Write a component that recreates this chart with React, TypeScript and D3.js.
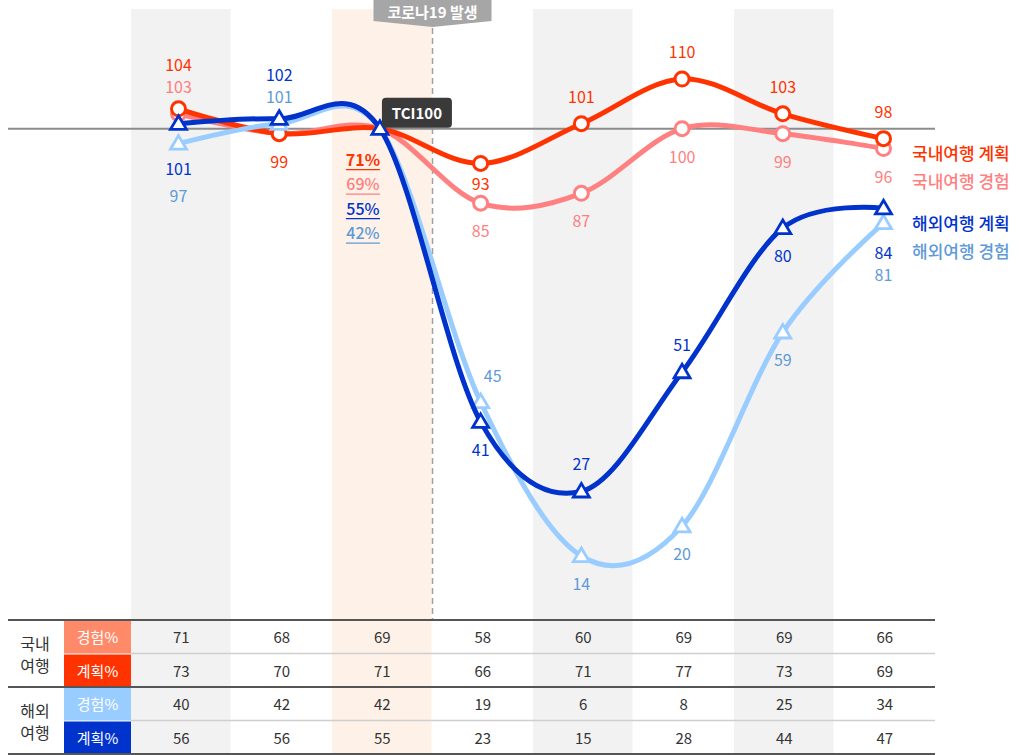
import * as d3 from 'd3';
import React from 'react';

const width = 1019;
const height = 755;
const font = "'Noto Sans CJK KR', 'Noto Sans', sans-serif";

// 8 survey periods, index 2 is the TCI=100 base, covid starts right after it
const periods = [0, 1, 2, 3, 4, 5, 6, 7];
const baseIndex = 2;

// TCI index values
const domesticPlan = [104, 99, 100, 93, 101, 110, 103, 98];
const domesticExp = [103, 99, 100, 85, 87, 100, 99, 96];
const overseasPlan = [101, 102, 100, 41, 27, 51, 80, 84];
const overseasExp = [97, 101, 100, 45, 14, 20, 59, 81];

// where each value label sits: a above, aa above 2nd row, b below, bs below close,
// bb/bbb below 2nd row, ar above-right, - none
const domesticPlanLabels = ['aa', 'b', '-', 'bs', 'a', 'a', 'a', 'a'];
const domesticExpLabels = ['a', '-', '-', 'b', 'b', 'b', 'b', 'b'];
const overseasPlanLabels = ['bb', 'aa', '-', 'b', 'a', 'a', 'b', 'bb'];
const overseasExpLabels = ['bbb', 'a', '-', 'ar', 'b', 'b', 'b', 'bbb'];

// table percentages
const domesticExpPct = [71, 68, 69, 58, 60, 69, 69, 66];
const domesticPlanPct = [73, 70, 71, 66, 71, 77, 73, 69];
const overseasExpPct = [40, 42, 42, 19, 6, 8, 25, 34];
const overseasPlanPct = [56, 56, 55, 23, 15, 28, 44, 47];

const red = '#ff3300';
const pink = '#ff8080';
const navy = '#0033cc';
const sky = '#99ccff';

const series = [
  { name: '국내여행 경험', values: domesticExp, labels: domesticExpLabels, color: pink, text: '#ff7f7f', shape: 'circle' },
  { name: '국내여행 계획', values: domesticPlan, labels: domesticPlanLabels, color: red, text: red, shape: 'circle' },
  { name: '해외여행 경험', values: overseasExp, labels: overseasExpLabels, color: sky, text: '#5e9ad8', shape: 'triangle' },
  { name: '해외여행 계획', values: overseasPlan, labels: overseasPlanLabels, color: navy, text: navy, shape: 'triangle' }
];

const legend = [
  { name: '국내여행 계획', color: red },
  { name: '국내여행 경험', color: '#ff7f7f' },
  { name: '해외여행 계획', color: navy },
  { name: '해외여행 경험', color: '#5e9ad8' }
];

const tableRows = [
  { label: '경험%', values: domesticExpPct, fill: '#ff8a6a' },
  { label: '계획%', values: domesticPlanPct, fill: red },
  { label: '경험%', values: overseasExpPct, fill: sky },
  { label: '계획%', values: overseasPlanPct, fill: navy }
];
const groups = [['국내', '여행'], ['해외', '여행']];

const labelOffset: Record<string, [number, number]> = {
  a: [0, -28],
  aa: [0, -45],
  b: [0, 27],
  bs: [0, 20],
  bb: [0, 44],
  bbb: [0, 51],
  ar: [12, -27]
};

const bandX = d3.scaleBand<number>().domain(periods).range([131, 935]);
const x = d3.scalePoint<number>().domain(periods).range([178.5, 883.5]);
const y = d3.scaleLinear().domain([110, 14]).range([79, 556]);

const line = d3
  .line<number>()
  .x((d, i) => x(i)!)
  .y(d => y(d))
  .curve(d3.curveCardinal.tension(0));

const tableTop = 620;
const rowH = 33.5;

function Marker({ shape, cx, cy, color }) {
  if (shape === 'circle') {
    return <circle cx={cx} cy={cy} r={7} fill="#fff" stroke={color} strokeWidth={3} />;
  }
  const s = 8;
  const pts = [
    [cx, cy - s],
    [cx + s, cy + s * 0.7],
    [cx - s, cy + s * 0.7]
  ];
  return <polygon points={pts.map(p => p.join(',')).join(' ')} fill="#fff" stroke={color} strokeWidth={2.8} strokeLinejoin="miter" />;
}

export default function App() {
  const bx = x(baseIndex)!;
  const covidX = bandX(baseIndex)! + bandX.bandwidth();

  return (
    <svg width={width} height={height} style={{ position: 'absolute', left: 0, top: 0, fontFamily: font }}>
      {/* column shading */}
      {periods.map(i =>
        i % 2 === 0 ? (
          <rect
            key={i}
            x={bandX(i)}
            y={9}
            width={bandX.bandwidth() - 1}
            height={height - 9}
            fill={i === baseIndex ? '#fdf1e8' : '#f2f2f2'}
          />
        ) : null
      )}

      {/* covid marker */}
      <line x1={covidX} x2={covidX} y1={28} y2={tableTop} stroke="#a0a0a0" strokeWidth={1.5} strokeDasharray="6,4" />
      <polygon
        points={`${covidX - 59},0 ${covidX + 59},0 ${covidX + 59},21 ${covidX},27 ${covidX - 59},21`}
        fill="#a6a6a6"
      />
      <text x={covidX} y={11} fill="#fff" fontSize={15} fontWeight={700} textAnchor="middle" dominantBaseline="central">
        코로나19 발생
      </text>

      {/* TCI 100 reference */}
      <line x1={8} x2={935} y1={y(100)} y2={y(100)} stroke="#8c8c8c" strokeWidth={2} />

      {series.map(s => (
        <g key={s.name}>
          <path d={line(s.values)!} fill="none" stroke={s.color} strokeWidth={5} strokeLinecap="round" />
          {s.values.map((v, i) =>
            i === baseIndex && s.color !== navy ? null : (
              <Marker key={i} shape={s.shape} cx={x(i)} cy={y(v)} color={s.color} />
            )
          )}
        </g>
      ))}

      {/* value labels */}
      {series.map(s =>
        s.values.map((v, i) => {
          const code = s.labels[i];
          if (code === '-') return null;
          const [dx, dy] = labelOffset[code];
          return (
            <text
              key={s.name + i}
              x={x(i)! + dx}
              y={y(v) + dy}
              fill={s.text}
              fontSize={16}
              textAnchor="middle"
              dominantBaseline="central"
            >
              {v}
            </text>
          );
        })
      )}

      {/* TCI100 badge */}
      <rect x={bx + 2} y={y(100) - 31} width={70} height={30} rx={4} fill="#3a3a3a" />
      <text x={bx + 37} y={y(100) - 16} fill="#fff" fontSize={15} fontWeight={700} textAnchor="middle" dominantBaseline="central">
        TCI100
      </text>

      {/* base period percentages */}
      {[
        { v: domesticPlanPct[baseIndex], c: red },
        { v: domesticExpPct[baseIndex], c: '#ff7f7f' },
        { v: overseasPlanPct[baseIndex], c: navy },
        { v: overseasExpPct[baseIndex], c: '#5e9ad8' }
      ].map((d, k) => (
        <g key={k}>
          <text
            x={bx - 17}
            y={y(100) + 30 + k * 24.5}
            fill={d.c}
            fontSize={16}
            fontWeight={k === 0 ? 700 : 500}
            textAnchor="middle"
            dominantBaseline="central"
          >
            {d.v}%
          </text>
          <line x1={bx - 34} x2={bx} y1={y(100) + 41 + k * 24.5} y2={y(100) + 41 + k * 24.5} stroke={d.c} strokeWidth={1.2} />
        </g>
      ))}

      {/* legend */}
      {legend.map((l, k) => (
        <text
          key={l.name}
          x={912}
          y={152 + k * 28 + (k > 1 ? 14 : 0)}
          fill={l.color}
          fontSize={17}
          fontWeight={500}
          dominantBaseline="central"
        >
          {l.name}
        </text>
      ))}

      {/* table */}
      {tableRows.map((r, k) => {
        const top = tableTop + k * rowH;
        return (
          <g key={k}>
            <rect x={64} y={top + 1} width={67} height={rowH - 1} fill={r.fill} />
            <text x={97.5} y={top + rowH / 2} fill="#fff" fontSize={15} textAnchor="middle" dominantBaseline="central">
              {r.label}
            </text>
            {r.values.map((v, i) => (
              <text
                key={i}
                x={bandX(i)! + bandX.bandwidth() / 2}
                y={top + rowH / 2}
                fill="#333"
                fontSize={15}
                textAnchor="middle"
                dominantBaseline="central"
              >
                {v}
              </text>
            ))}
            {k % 2 === 0 ? (
              <line x1={131} x2={935} y1={top + rowH} y2={top + rowH} stroke="#cfcfcf" strokeWidth={1.5} />
            ) : null}
          </g>
        );
      })}
      {[0, 2, 4].map(k => (
        <line key={k} x1={8} x2={935} y1={tableTop + k * rowH} y2={tableTop + k * rowH} stroke="#555" strokeWidth={2} />
      ))}
      {groups.map((g, k) => (
        <g key={k}>
          {g.map((t, j) => (
            <text
              key={j}
              x={35}
              y={tableTop + k * 2 * rowH + rowH - 11 + j * 22}
              fill="#333"
              fontSize={16}
              textAnchor="middle"
              dominantBaseline="central"
            >
              {t}
            </text>
          ))}
        </g>
      ))}
    </svg>
  );
}
